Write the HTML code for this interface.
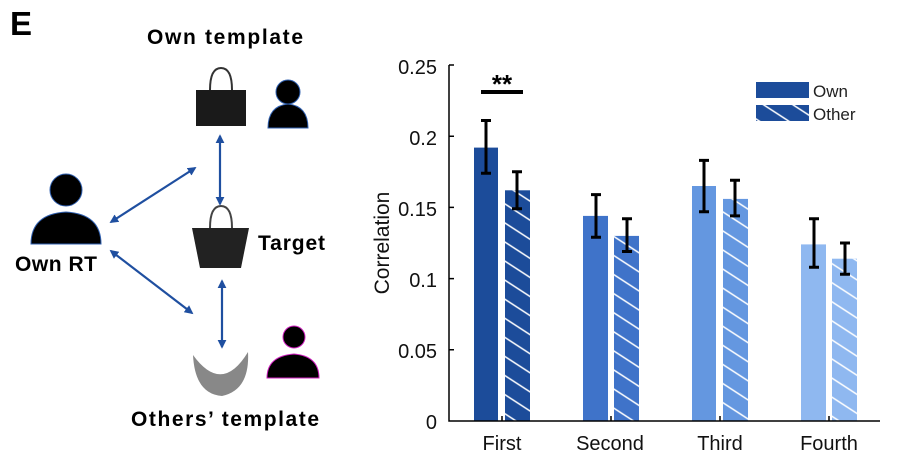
<!DOCTYPE html><html><head><style>
body{margin:0;background:#fff;}
svg text{font-family:"Liberation Sans",sans-serif;}
</style></head><body>
<svg width="898" height="464" viewBox="0 0 898 464" xmlns="http://www.w3.org/2000/svg">
<defs>
<marker id="ar" viewBox="0 0 10 10" refX="8" refY="5" markerWidth="4" markerHeight="4" orient="auto-start-reverse"><path d="M0,0L10,5L0,10z" fill="#1f4fa0"/></marker>
<pattern id="h" width="20" height="16" patternUnits="userSpaceOnUse" patternTransform="rotate(33)"><line x1="0" y1="8" x2="20" y2="8" stroke="#fff" stroke-width="1.6"/></pattern>
</defs>
<text x="10" y="35" font-size="33" font-weight="bold">E</text>
<text x="225" y="44" font-size="21" font-weight="bold" text-anchor="middle" textLength="156">Own template</text>
<text x="56" y="271" font-size="21" font-weight="bold" text-anchor="middle" textLength="82">Own RT</text>
<text x="258" y="250" font-size="21" font-weight="bold" textLength="67">Target</text>
<text x="225" y="426" font-size="21" font-weight="bold" text-anchor="middle" textLength="188">Others’ template</text>
<path d="M210,90 Q210,68 221,68 Q232,68 232,90" fill="none" stroke="#333" stroke-width="2"/>
<rect x="196" y="90" width="50" height="36" fill="#1a1a1a"/>
<path d="M210,228 Q210,206 221,206 Q232,206 232,228" fill="none" stroke="#444" stroke-width="2"/>
<path d="M192,228 L249,228 L241,268 L200,268 Z" fill="#222"/>
<path d="M193,355 Q222,395 248,352 Q250,390 222,396 Q195,394 193,355Z" fill="#888"/>
<g fill="#000" stroke="#3060b0" stroke-width="1">
<circle cx="288" cy="92" r="12"/><path d="M268,128 Q268,106 288,104 Q308,106 308,128Z"/>
<circle cx="66" cy="190" r="16"/><path d="M31,244 Q31,214 66,212 Q101,214 101,244Z"/>
</g>
<g fill="#000" stroke="#d020c0" stroke-width="1">
<circle cx="294" cy="337" r="11"/><path d="M267,378 Q267,356 294,354 Q319,356 319,378Z"/>
</g>
<g stroke="#1f4fa0" stroke-width="2.2" marker-start="url(#ar)" marker-end="url(#ar)">
<line x1="220" y1="136" x2="220" y2="204"/>
<line x1="222" y1="281" x2="222" y2="347"/>
<line x1="111" y1="222" x2="195" y2="168"/>
<line x1="111" y1="251" x2="192" y2="313"/>
</g>
<g font-size="20" fill="#111">
<text x="437" y="74" text-anchor="end">0.25</text>
<text x="437" y="145" text-anchor="end">0.2</text>
<text x="437" y="216" text-anchor="end">0.15</text>
<text x="437" y="287" text-anchor="end">0.1</text>
<text x="437" y="358" text-anchor="end">0.05</text>
<text x="437" y="429" text-anchor="end">0</text>
<text x="502" y="450" text-anchor="middle">First</text>
<text x="610" y="450" text-anchor="middle">Second</text>
<text x="720" y="450" text-anchor="middle">Third</text>
<text x="829" y="450" text-anchor="middle">Fourth</text>
<text transform="translate(389,243) rotate(-90)" text-anchor="middle" font-size="21">Correlation</text>
</g>
<rect x="474" y="147.6" width="24" height="273.4" fill="#1c4c9a"/>
<rect x="505" y="190.3" width="25" height="230.7" fill="#1c4c9a"/><rect x="505" y="190.3" width="25" height="230.7" fill="url(#h)"/>
<rect x="583" y="215.9" width="25" height="205.1" fill="#3f73c9"/>
<rect x="614" y="235.9" width="25" height="185.1" fill="#3f73c9"/><rect x="614" y="235.9" width="25" height="185.1" fill="url(#h)"/>
<rect x="692" y="186" width="24" height="235" fill="#6497e0"/>
<rect x="723" y="198.9" width="25" height="222.1" fill="#6497e0"/><rect x="723" y="198.9" width="25" height="222.1" fill="url(#h)"/>
<rect x="801" y="244.4" width="25" height="176.6" fill="#8fb8f0"/>
<rect x="832" y="258.7" width="25" height="162.3" fill="#8fb8f0"/><rect x="832" y="258.7" width="25" height="162.3" fill="url(#h)"/>
<g stroke="#000" stroke-width="3">
<path d="M486,173.2V120.5M481,173.2h10M481,120.5h10"/>
<path d="M517,208.8V171.8M512,208.8h10M512,171.8h10"/>
<path d="M596,237.3V194.6M591,237.3h10M591,194.6h10"/>
<path d="M627,251.5V218.8M622,251.5h10M622,218.8h10"/>
<path d="M704,211.7V160.4M699,211.7h10M699,160.4h10"/>
<path d="M735,215.9V180.3M730,215.9h10M730,180.3h10"/>
<path d="M814,267.2V218.8M809,267.2h10M809,218.8h10"/>
<path d="M845,274.3V243M840,274.3h10M840,243h10"/>
</g>
<g stroke="#000" stroke-width="1.5" fill="none">
<path d="M449,65V421H880"/>
<path d="M449,65h5M449,136.2h5M449,207.4h5M449,278.6h5M449,349.8h5"/>
<path d="M502,421v-5M611,421v-5M720,421v-5M829,421v-5"/>
</g>
<line x1="481" y1="92" x2="523" y2="92" stroke="#000" stroke-width="4"/>
<text x="502" y="93" font-size="26" font-weight="bold" text-anchor="middle">**</text>
<rect x="756" y="82" width="53" height="16" fill="#1c4c9a"/>
<rect x="756" y="105" width="53" height="16" fill="#1c4c9a"/><rect x="756" y="105" width="53" height="16" fill="url(#h)"/>
<text x="813" y="97" font-size="17" fill="#222">Own</text>
<text x="813" y="120" font-size="17" fill="#222">Other</text>
</svg>
</body></html>
